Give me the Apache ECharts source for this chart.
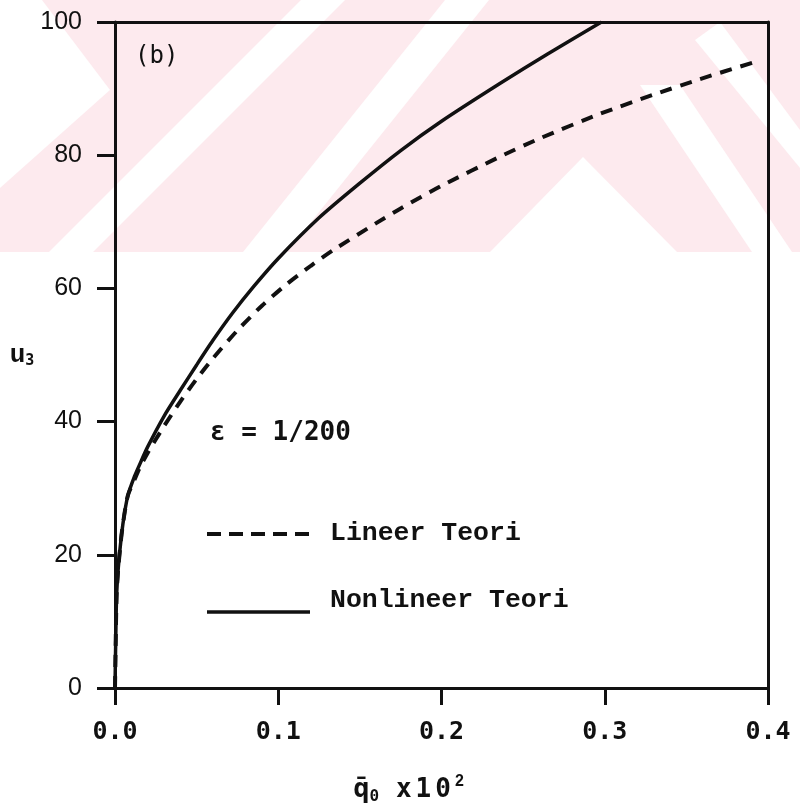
<!DOCTYPE html>
<html>
<head>
<meta charset="utf-8">
<script src="https://cdn.jsdelivr.net/npm/echarts@6/dist/echarts.min.js"></script>
<style>
  html, body { margin: 0; padding: 0; background: #fff; }
  #chart { width: 800px; height: 808px; }
</style>
</head>
<body>
<div id="chart"></div>
<script>
// q0 x10^2 values and u3 values
const linQ = [0, 0.0005, 0.001, 0.002, 0.004, 0.006, 0.008, 0.012, 0.015, 0.02, 0.03, 0.04, 0.05, 0.06, 0.075, 0.09, 0.105, 0.12, 0.134, 0.16, 0.175, 0.2, 0.236, 0.26, 0.297, 0.33, 0.358, 0.392]
const linU = [0, 8, 14, 18, 23, 26.5, 29, 31.3, 33, 35.3, 39.3, 43, 46.4, 49.5, 53.7, 57.4, 60.6, 63.4, 65.8, 69.8, 72, 75.4, 79.8, 82.5, 86.2, 89.1, 91.4, 94]
const nonQ = [0, 0.0005, 0.001, 0.002, 0.004, 0.006, 0.008, 0.012, 0.015, 0.02, 0.03, 0.04, 0.05, 0.06, 0.072, 0.085, 0.1, 0.125, 0.15, 0.175, 0.2, 0.236, 0.265, 0.298]
const nonU = [0, 8, 14, 18, 23, 26.5, 29, 31.8, 33.5, 36.2, 40.8, 44.7, 48.5, 52.2, 56.3, 60.3, 64.5, 70.6, 75.8, 80.7, 85.1, 90.8, 95.2, 100]
const xTicks = [0, 0.1, 0.2, 0.3, 0.4]
const yTicks = [0, 20, 40, 60, 80, 100]

const ink = '#111'
const pink = '#fdeaee'

function pairs(xs, ys) {
  return xs.map((x, i) => [x, ys[i]])
}

const chart = echarts.init(document.getElementById('chart'))

// faint watermark band behind the upper part of the plot
const watermark = [
  { type: 'rect', shape: { x: 0, y: 0, width: 800, height: 252 }, style: { fill: pink } },
  { type: 'polygon', shape: { points: [[0, 0], [42, 0], [110, 90], [0, 188]] }, style: { fill: '#fff' } },
  { type: 'polygon', shape: { points: [[301, 0], [345, 0], [93, 252], [49, 252]] }, style: { fill: '#fff' } },
  { type: 'polygon', shape: { points: [[445, 0], [489, 0], [287, 252], [243, 252]] }, style: { fill: '#fff' } },
  { type: 'polygon', shape: { points: [[583, 157], [490, 252], [677, 252]] }, style: { fill: '#fff' } },
  { type: 'polygon', shape: { points: [[640, 85], [680, 85], [792, 252], [752, 252]] }, style: { fill: '#fff' } },
  { type: 'polygon', shape: { points: [[695, 40], [720, 22], [800, 130], [800, 168]] }, style: { fill: '#fff' } }
].map(el => Object.assign(el, { z: -10, silent: true }))

const monoSerif = 'Liberation Mono'
const monoSans = 'DejaVu Sans Mono'

// plain frame axis (top / right) with only the line drawn
function frameAxis(extra) {
  return Object.assign({
    type: 'value',
    axisLine: { show: true, onZero: false, lineStyle: { color: ink, width: 3 } },
    axisTick: { show: false }, axisLabel: { show: false }, splitLine: { show: false }
  }, extra)
}

chart.setOption({
  animation: false,
  backgroundColor: '#fff',
  grid: { left: 115, right: 32, top: 22, bottom: 120, containLabel: false, outerBoundsMode: 'none' },
  xAxis: [
    {
      type: 'value', min: 0, max: 0.4, interval: 0.1,
      axisLine: { show: true, onZero: false, lineStyle: { color: ink, width: 3 } },
      axisTick: { show: true, inside: false, length: 17, lineStyle: { color: ink, width: 3 } },
      axisLabel: {
        color: ink, fontFamily: monoSans, fontWeight: 'bold', fontSize: 25, margin: 32,
        formatter: v => xTicks.includes(+v.toFixed(1)) ? v.toFixed(1) : ''
      },
      splitLine: { show: false },
      name: '{q|q\u0304}{sub|0}  {x|x}{x|1}{x|0}{sup|2}',
      nameLocation: 'middle', nameGap: 86,
      nameTextStyle: {
        padding: [0, 66, 0, 0],
        rich: {
          q: { fontFamily: monoSans, fontSize: 27, color: ink },
          x: { fontFamily: monoSans, fontSize: 26, fontWeight: 'bold', color: ink, padding: [0, 4, 0, 0] },
          sub: { fontFamily: monoSans, fontSize: 16, fontWeight: 'bold', color: ink, padding: [14, 0, 0, 0] },
          sup: { fontFamily: 'Liberation Sans', fontSize: 16, fontWeight: 'bold', color: ink, padding: [0, 0, 16, 0] }
        },
        fontFamily: monoSans, fontWeight: 'bold', fontSize: 14, color: ink
      }
    },
    frameAxis({ min: 0, max: 0.4, position: 'top' })
  ],
  yAxis: [
    {
      type: 'value', min: 0, max: 100, interval: 20, position: 'left',
      axisLine: { show: true, onZero: false, lineStyle: { color: ink, width: 3 } },
      axisTick: { show: true, inside: false, length: 18, lineStyle: { color: ink, width: 3 } },
      axisLabel: { color: ink, fontFamily: 'Liberation Sans', fontSize: 25, margin: 33 },
      splitLine: { show: false },
      name: '{u|u}{sub|3}',
      nameLocation: 'middle', nameGap: 78, nameRotate: 0,
      nameTextStyle: {
        rich: {
          u: { fontFamily: monoSerif, fontWeight: 'bold', fontSize: 26, color: ink },
          sub: { fontFamily: monoSans, fontWeight: 'bold', fontSize: 15, color: ink, padding: [12, 0, 0, 0] }
        }
      }
    },
    frameAxis({ min: 0, max: 100, position: 'right' })
  ],
  series: [
    {
      name: 'Lineer Teori', type: 'line', data: pairs(linQ, linU),
      showSymbol: false, smooth: 0.25,
      lineStyle: { color: ink, width: 4, type: [12, 9] }
    },
    {
      name: 'Nonlineer Teori', type: 'line', data: pairs(nonQ, nonU),
      showSymbol: false, smooth: 0.25,
      lineStyle: { color: ink, width: 3.5 }
    }
  ],
  graphic: watermark.concat([
    { type: 'text', left: 135, top: 45, style: { text: '(b)', font: '24px "DejaVu Sans Mono"', fill: ink } },
    { type: 'text', left: 210, top: 420, style: { text: '\u03b5 = 1/200', font: 'bold 26px "DejaVu Sans Mono"', fill: ink } },
    { type: 'line', shape: { x1: 207, y1: 534, x2: 310, y2: 534 }, style: { stroke: ink, lineWidth: 4, lineDash: [14, 8] } },
    { type: 'text', left: 330, top: 520, style: { text: 'Lineer Teori', font: 'bold 26.5px "Liberation Mono"', fill: ink } },
    { type: 'line', shape: { x1: 207, y1: 612, x2: 310, y2: 612 }, style: { stroke: ink, lineWidth: 3.5 } },
    { type: 'text', left: 330, top: 587, style: { text: 'Nonlineer Teori', font: 'bold 26.5px "Liberation Mono"', fill: ink } }
  ])
})
</script>
</body>
</html>
